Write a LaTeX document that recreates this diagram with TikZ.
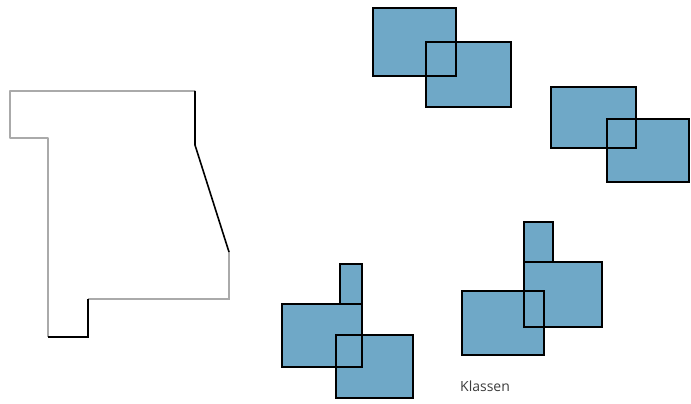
\documentclass[tikz,border=0pt]{standalone}
\usepackage{fontspec}
\setsansfont{Open Sans}
\usepackage{xcolor}
\definecolor{klassblau}{RGB}{111,168,199}
\definecolor{randgrau}{RGB}{170,170,170}
\definecolor{textgrau}{RGB}{60,60,60}

\begin{document}
\begin{tikzpicture}[x=1pt, y=-1pt,
	klassfill/.style={fill=klassblau},
	klassrand/.style={draw=black, line width=1.8pt},
	umriss/.style={line width=1.8pt, randgrau},
	umrisskante/.style={line width=1.6pt, black}]
	\useasboundingbox (0,0) rectangle (691,404);
	
	% Outline of the region
	\draw[umriss, line join=round] (195,91) -- (10,91) -- (10,138) -- (48,138) -- (48,337);
	\draw[umriss] (88,299) -- (229,299) -- (229,252);
	\draw[umrisskante] (195,91) -- (195,145) -- (229,252);
	\draw[umrisskante] (88,299) -- (88,337) -- (48,337);
	
	% Group top
	\fill[klassfill] (373,8) rectangle (456,76);
	\fill[klassfill] (426,42) rectangle (511,107);
	\draw[klassrand] (373,8) rectangle (456,76);
	\draw[klassrand] (426,42) rectangle (511,107);
	
	% Group right
	\fill[klassfill] (551,87) rectangle (636,148);
	\fill[klassfill] (607,119) rectangle (689,182);
	\draw[klassrand] (551,87) rectangle (636,148);
	\draw[klassrand] (607,119) rectangle (689,182);
	
	% Group bottom left
	\fill[klassfill] (340,264) rectangle (362,304);
	\fill[klassfill] (282,304) rectangle (362,367);
	\fill[klassfill] (336,335) rectangle (413,398);
	\draw[klassrand] (340,264) rectangle (362,304);
	\draw[klassrand] (282,304) rectangle (362,367);
	\draw[klassrand] (336,335) rectangle (413,398);
	
	% Group bottom right
	\fill[klassfill] (524,222) rectangle (553,262);
	\fill[klassfill] (524,262) rectangle (602,327);
	\fill[klassfill] (462,291) rectangle (544,355);
	\draw[klassrand] (524,222) rectangle (553,262);
	\draw[klassrand] (524,262) rectangle (602,327);
	\draw[klassrand] (462,291) rectangle (544,355);
	
	% Label
	\node[anchor=base west, inner sep=0pt, text=textgrau, font=\sffamily\fontsize{14}{16}\selectfont] (klassen) at (460,391) {Klassen};
	
\end{tikzpicture}
\end{document}
